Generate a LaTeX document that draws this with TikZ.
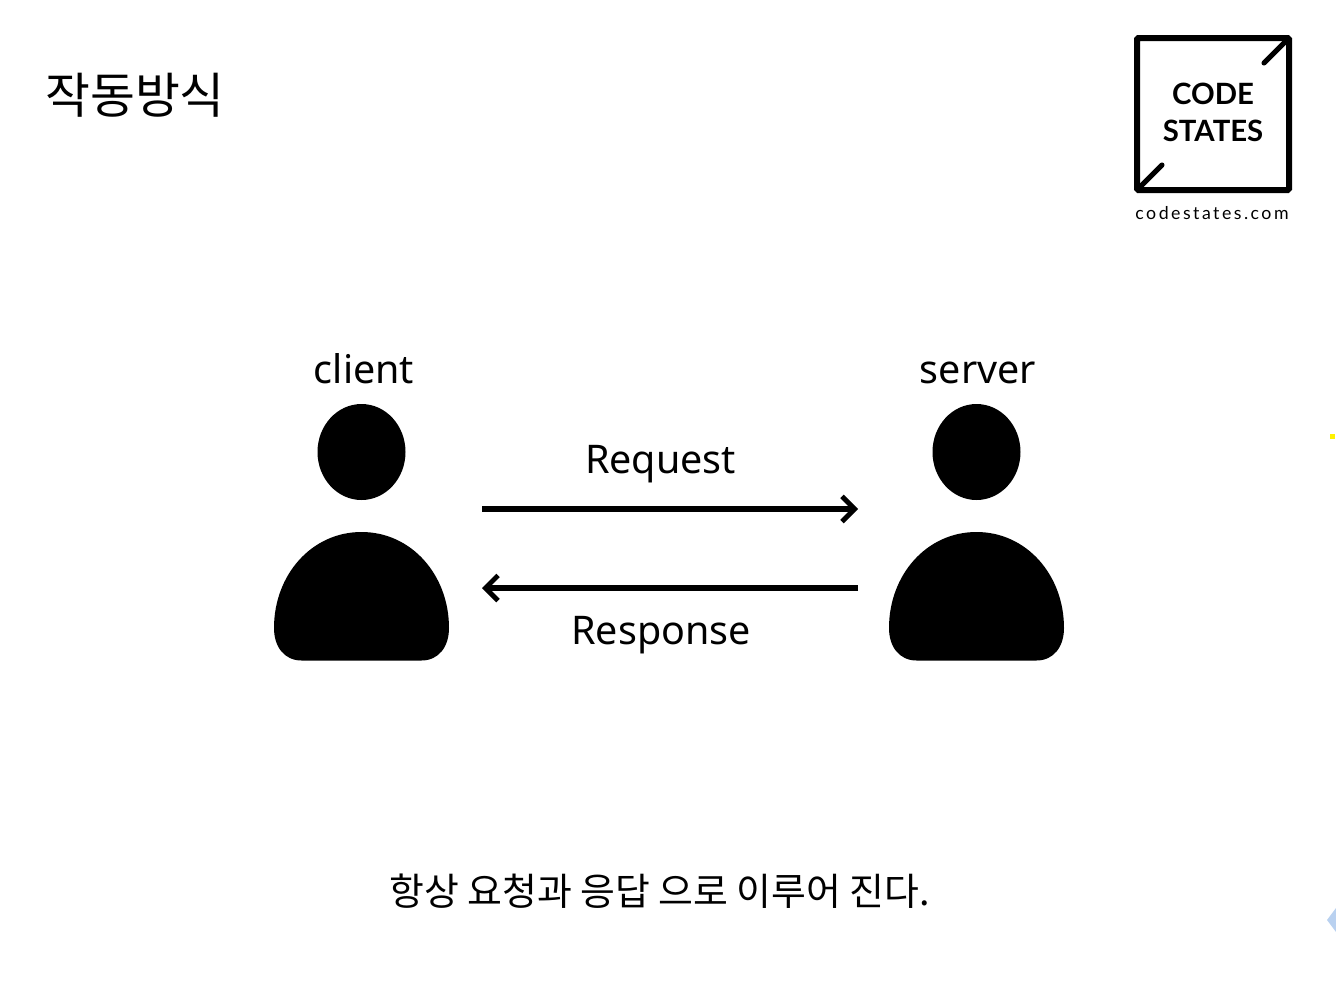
\documentclass[tikz,border=0pt]{standalone}
\usepackage{fontspec}
\usepackage{amsmath, amssymb}
\usetikzlibrary{arrows.meta}
\setmainfont{Noto Sans}
\newfontfamily\krfont{Noto Sans CJK KR}
\newfontfamily\logofont{Lato}
\newfontfamily\urlfont[LetterSpace=14]{Lato}
\definecolor{edgeblue}{HTML}{B9D1F0}
\tikzset{
  label text/.style={inner sep=0pt, anchor=base, font=\fontsize{29.6}{36}\selectfont},
  flow/.style={-{Straight Barb[length=9.5pt,width=19pt,line width=3.6pt]}, line width=4.2pt},
  mark text/.style={inner sep=0pt, anchor=base, font=\logofont\bfseries\fontsize{22}{26}\selectfont}
}
\begin{document}
\begin{tikzpicture}[x=0.75pt,y=-0.75pt]
      \useasboundingbox (0,0) rectangle (1336,982);
      \fill[white] (0,0) rectangle (1336,982);

      % the two people
      \foreach \px in {361.5,976.5}{
         \fill[shift={(\px,0)}] (0,452) ellipse [x radius=44, y radius=48];
         \fill[shift={(\px,0)}] (0,532) .. controls (50,532) and (87.5,575) .. (87.5,628)
            .. controls (87.5,647) and (77,660.5) .. (60,660.5) -- (-60,660.5)
            .. controls (-77,660.5) and (-87.5,647) .. (-87.5,628)
            .. controls (-87.5,575) and (-50,532) .. (0,532) -- cycle;
      }

      \node[label text] (client) at (364,383) {client};
      \node[label text] (server) at (978,383) {server};
      \node[label text] (request) at (660.5,473) {Request};
      \node[label text] (response) at (661,644.5) {Response};

      \coordinate (reqstart) at (482,509);
      \coordinate (reqend) at (858,509);
      \coordinate (resstart) at (858,588);
      \coordinate (resend) at (482,588);
      \draw[flow] (reqstart) -- (reqend);
      \draw[flow, line width=3.9pt] (resstart) -- (resend);

      \node[inner sep=0pt, anchor=base west, font=\krfont\fontsize{36.6}{44}\selectfont] (title) at (45,113) {작동방식};
      \node[inner sep=0pt, anchor=base, font=\krfont\fontsize{28.4}{34}\selectfont] (summary) at (659.5,905) {항상 요청과 응답 으로 이루어 진다.};

      % logo
      \draw[line width=4.5pt, rounded corners=1pt] (1137,38) rectangle (1289,190);
      \draw[line width=3.8pt, line cap=round] (1287,40) -- (1264,63);
      \draw[line width=3.8pt, line cap=round] (1139,188) -- (1162,165);
      \node[mark text] (code) at (1213,104.5) {CODE};
      \node[mark text] (states) at (1213,141) {STATES};
      \node[inner sep=0pt, anchor=base, font=\urlfont\fontsize{13.3}{16}\selectfont] (site) at (1212,219) {codestates.com};

      % stray marks at the right edge
      \fill[yellow] (1330,434) rectangle (1335,439);
      \fill[edgeblue] (1336,908) -- (1327,920) -- (1336,932) -- cycle;
    \end{tikzpicture}
\end{document}
